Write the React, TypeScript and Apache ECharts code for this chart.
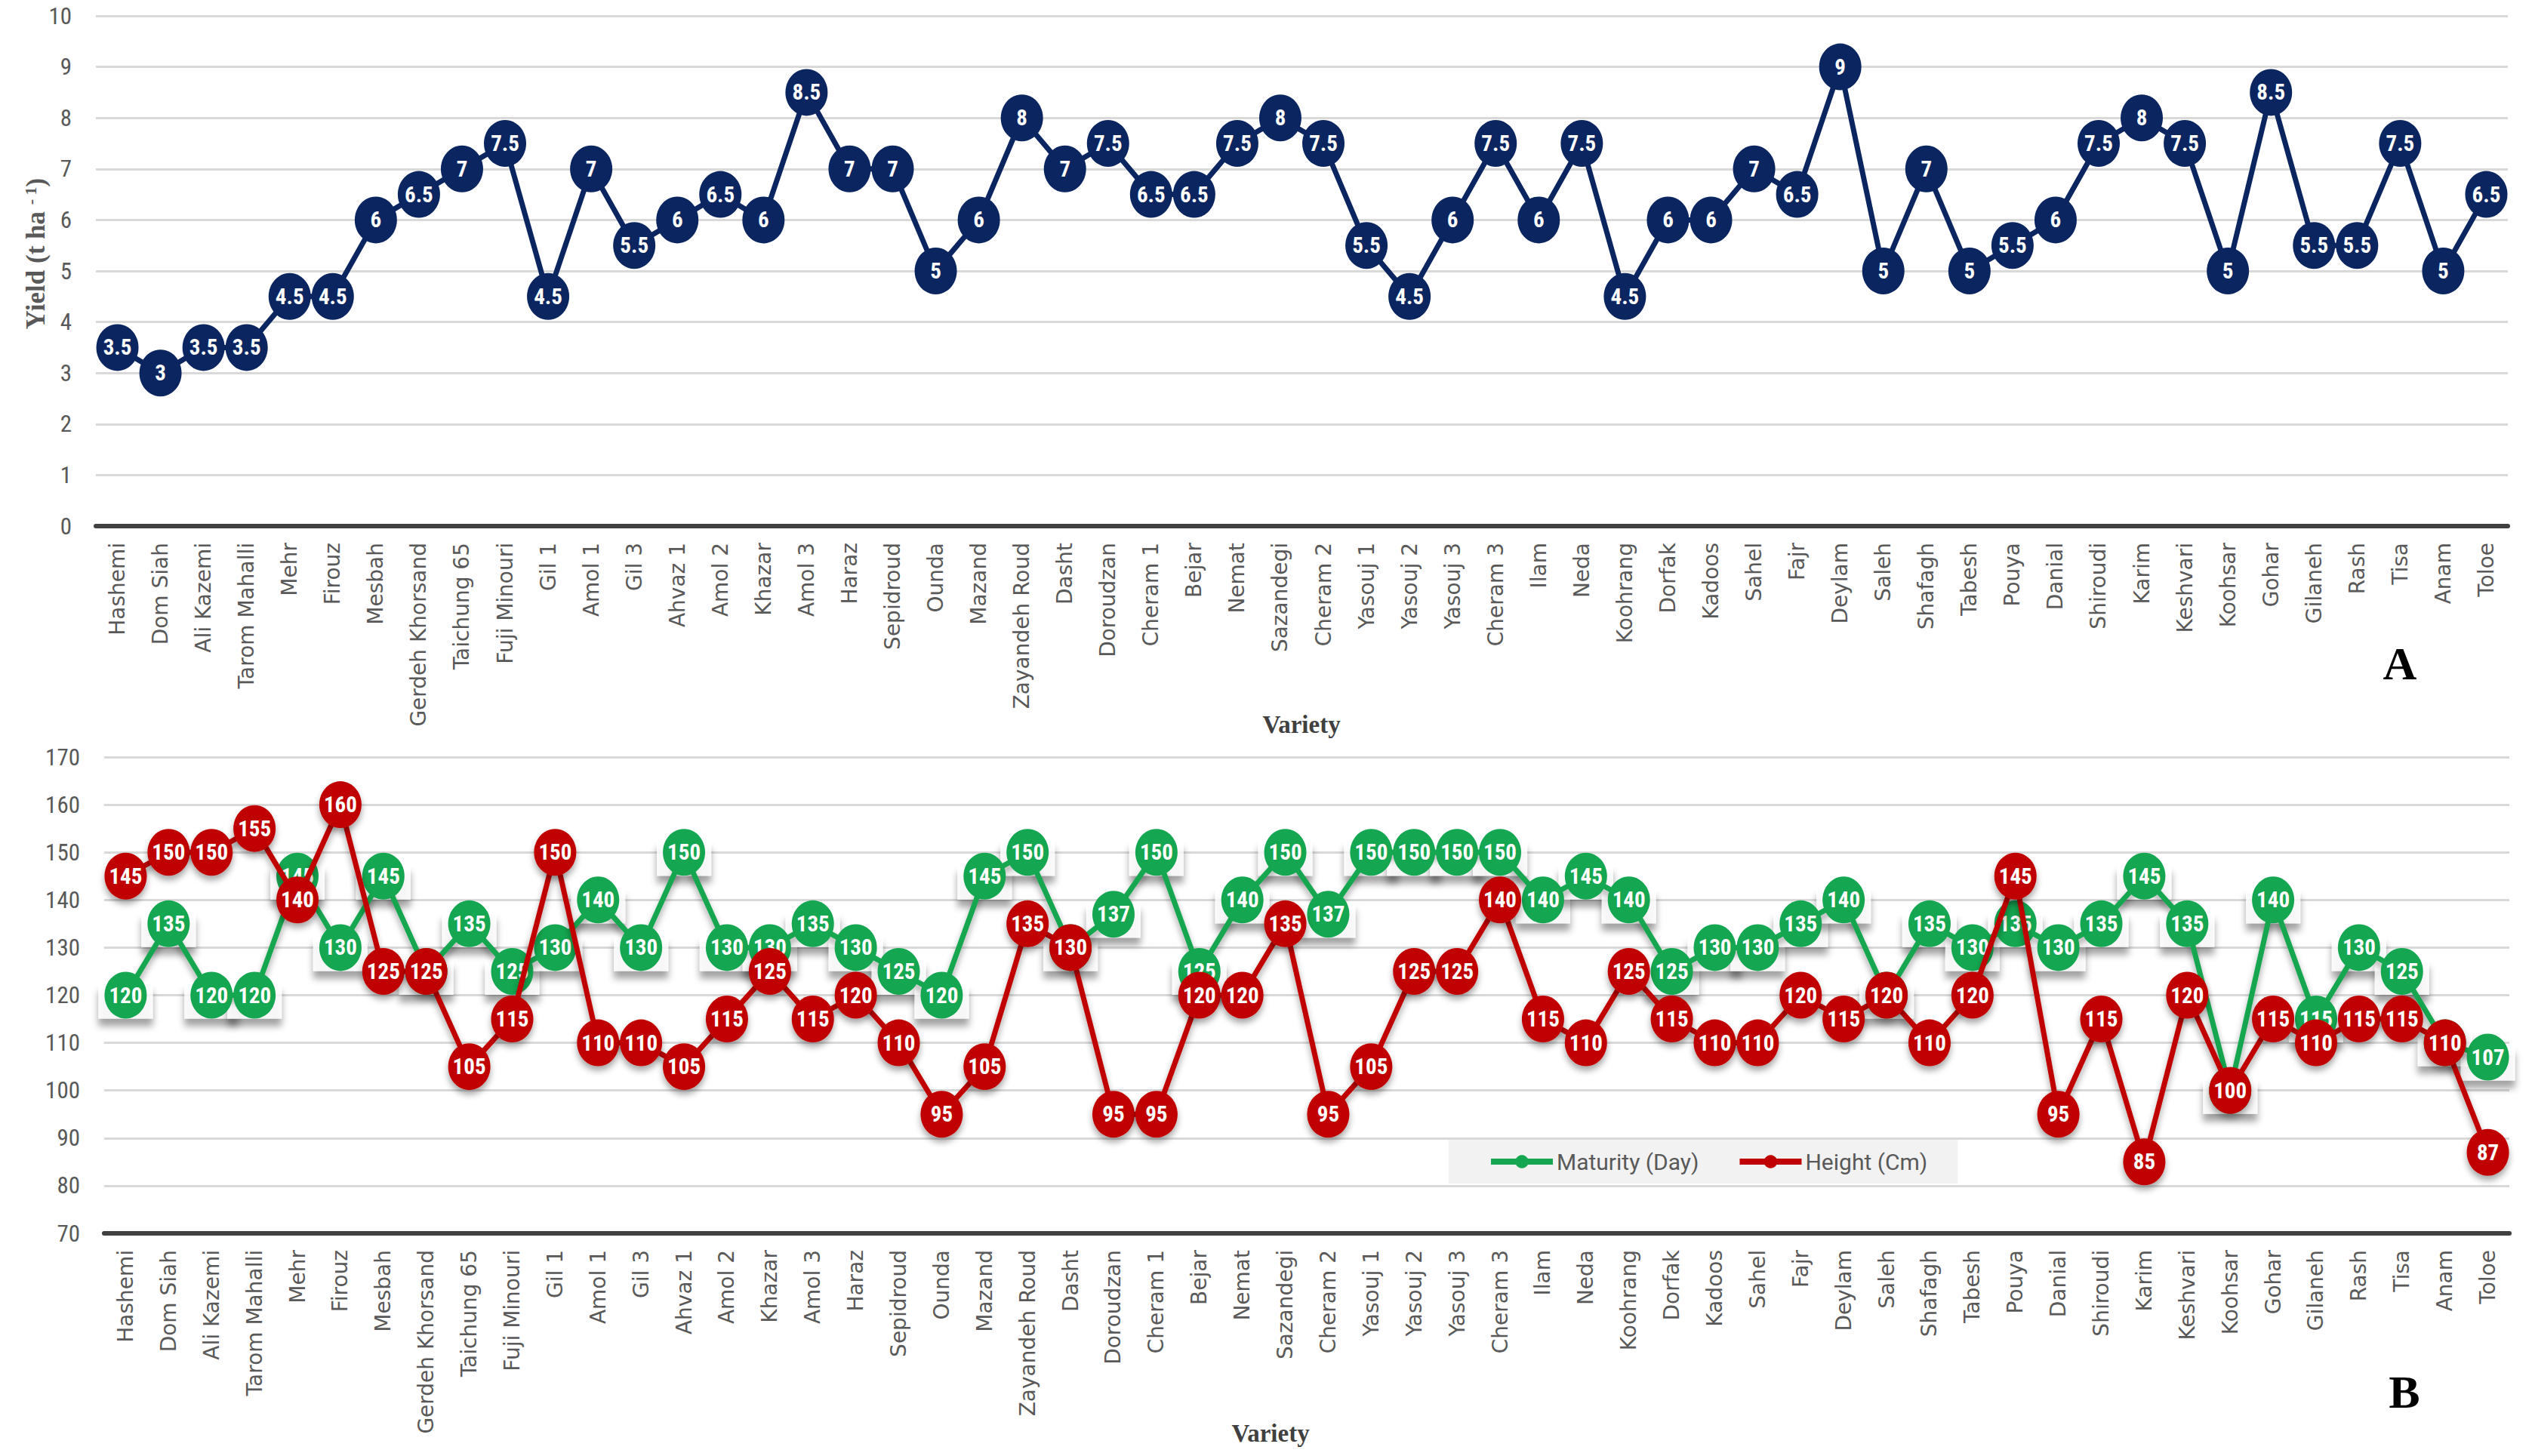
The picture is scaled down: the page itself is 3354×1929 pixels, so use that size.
import React, { useEffect, useRef } from 'react';
import * as echarts from 'echarts';

const categories = [
  'Hashemi', 'Dom Siah', 'Ali Kazemi', 'Tarom Mahalli', 'Mehr', 'Firouz', 'Mesbah', 'Gerdeh Khorsand',
  'Taichung 65', 'Fuji Minouri', 'Gil 1', 'Amol 1', 'Gil 3', 'Ahvaz 1', 'Amol 2', 'Khazar', 'Amol 3',
  'Haraz', 'Sepidroud', 'Ounda', 'Mazand', 'Zayandeh Roud', 'Dasht', 'Doroudzan', 'Cheram 1', 'Bejar',
  'Nemat', 'Sazandegi', 'Cheram 2', 'Yasouj 1', 'Yasouj 2', 'Yasouj 3', 'Cheram 3', 'Ilam', 'Neda',
  'Koohrang', 'Dorfak', 'Kadoos', 'Sahel', 'Fajr', 'Deylam', 'Saleh', 'Shafagh', 'Tabesh', 'Pouya',
  'Danial', 'Shiroudi', 'Karim', 'Keshvari', 'Koohsar', 'Gohar', 'Gilaneh', 'Rash', 'Tisa', 'Anam', 'Toloe',
];

const yieldValues = [
  3.5, 3, 3.5, 3.5, 4.5, 4.5, 6, 6.5, 7, 7.5, 4.5, 7, 5.5, 6, 6.5, 6, 8.5, 7, 7, 5, 6, 8, 7, 7.5, 6.5, 6.5,
  7.5, 8, 7.5, 5.5, 4.5, 6, 7.5, 6, 7.5, 4.5, 6, 6, 7, 6.5, 9, 5, 7, 5, 5.5, 6, 7.5, 8, 7.5, 5, 8.5, 5.5,
  5.5, 7.5, 5, 6.5,
];

const maturityValues = [
  120, 135, 120, 120, 145, 130, 145, 125, 135, 125, 130, 140, 130, 150, 130, 130, 135, 130, 125, 120, 145,
  150, 130, 137, 150, 125, 140, 150, 137, 150, 150, 150, 150, 140, 145, 140, 125, 130, 130, 135, 140, 120,
  135, 130, 135, 130, 135, 145, 135, 100, 140, 115, 130, 125, 110, 107,
];

const heightValues = [
  145, 150, 150, 155, 140, 160, 125, 125, 105, 115, 150, 110, 110, 105, 115, 125, 115, 120, 110, 95, 105,
  135, 130, 95, 95, 120, 120, 135, 95, 105, 125, 125, 140, 115, 110, 125, 115, 110, 110, 120, 115, 120,
  110, 120, 145, 95, 115, 85, 120, 100, 115, 110, 115, 115, 110, 87,
];

const seriesNames = ['Yield', 'Maturity (Day)', 'Height (Cm)'];

const NAVY = '#0b2560';
const GREEN = '#14a650';
const RED = '#c00000';
const TICK_FONT = "'Liberation Sans Narrow', 'Roboto Condensed', Roboto, sans-serif";
const LABEL_FONT = "'DejaVu Sans', Verdana, sans-serif";

export default function App() {
  const ref = useRef<HTMLDivElement>(null);

  useEffect(() => {
    if (!ref.current) return;
    const chart = echarts.init(ref.current, undefined, { renderer: 'svg' });

    const dataLabel = {
      show: true,
      position: 'inside',
      color: '#ffffff',
      fontSize: 29,
      fontWeight: 'bold',
      fontFamily: TICK_FONT,
    };

    const xAxisCommon = {
      type: 'category',
      data: categories,
      boundaryGap: true,
      axisLine: { show: true, lineStyle: { color: '#404040', width: 6 } },
      axisTick: { show: false },
      axisLabel: {
        rotate: 90,
        interval: 0,
        fontSize: 28,
        fontFamily: LABEL_FONT,
        color: '#595959',
        margin: 22,
      },
      splitLine: { show: false },
    };

    const yAxisCommon = {
      type: 'value',
      axisLine: { show: false },
      axisTick: { show: false },
      splitLine: { show: true, lineStyle: { color: '#d9d9d9', width: 3 } },
    };

    const shadow = {
      shadowColor: 'rgba(0,0,0,0.35)',
      shadowBlur: 8,
      shadowOffsetY: 6,
    };

    const option = {
      animation: false,
      backgroundColor: '#ffffff',
      grid: [
        { left: 127, right: 32, top: 21, height: 676 },
        { left: 138, right: 30, top: 1003, height: 631 },
      ],
      xAxis: [
        { ...xAxisCommon, gridIndex: 0 },
        { ...xAxisCommon, gridIndex: 1 },
      ],
      yAxis: [
        {
          ...yAxisCommon,
          gridIndex: 0,
          min: 0,
          max: 10,
          interval: 1,
          axisLabel: { fontSize: 31, fontFamily: TICK_FONT, color: '#595959', margin: 32 },
        },
        {
          ...yAxisCommon,
          gridIndex: 1,
          min: 70,
          max: 170,
          interval: 10,
          axisLabel: { fontSize: 31, fontFamily: TICK_FONT, color: '#595959', margin: 32 },
        },
      ],
      legend: {
        data: [seriesNames[1], seriesNames[2]],
        left: 1919,
        top: 1510,
        orient: 'horizontal',
        backgroundColor: '#f2f2f2',
        padding: [14, 40, 14, 52],
        itemGap: 50,
        itemWidth: 82,
        itemHeight: 22,
        lineStyle: { width: 8 },
        textStyle: { fontSize: 30, fontFamily: 'Roboto, sans-serif', color: '#595959', padding: [0, 0, 0, 0] },
      },
      series: [
        {
          name: seriesNames[0],
          type: 'line',
          xAxisIndex: 0,
          yAxisIndex: 0,
          data: yieldValues,
          symbol: 'circle',
          symbolSize: [56, 62],
          lineStyle: { color: NAVY, width: 7 },
          itemStyle: { color: NAVY },
          label: { ...dataLabel },
          z: 3,
        },
        {
          name: 'maturityBoxes',
          type: 'scatter',
          xAxisIndex: 1,
          yAxisIndex: 1,
          data: maturityValues,
          symbol: 'rect',
          symbolSize: [72, 46],
          symbolOffset: [0, 8],
          itemStyle: {
            color: '#ffffff',
            shadowColor: 'rgba(0,0,0,0.45)',
            shadowBlur: 10,
            shadowOffsetY: 10,
          },
          silent: true,
          z: 1,
        },
        {
          name: seriesNames[1],
          type: 'line',
          xAxisIndex: 1,
          yAxisIndex: 1,
          data: maturityValues,
          symbol: 'circle',
          symbolSize: [56, 62],
          lineStyle: { color: GREEN, width: 7, ...shadow },
          itemStyle: { color: GREEN },
          label: { ...dataLabel },
          z: 2,
        },
        {
          name: seriesNames[2],
          type: 'line',
          xAxisIndex: 1,
          yAxisIndex: 1,
          data: heightValues,
          symbol: 'circle',
          symbolSize: [56, 62],
          lineStyle: { color: RED, width: 7, ...shadow },
          itemStyle: { color: RED, ...shadow },
          label: { ...dataLabel },
          z: 3,
        },
      ],
      graphic: [
        {
          type: 'text',
          x: 47,
          y: 336,
          rotation: Math.PI / 2,
          style: {
            text: '{a|Yield (t ha }{s|- 1}{a|)}',
            textAlign: 'center',
            textVerticalAlign: 'middle',
            rich: {
              a: { fontSize: 35, fontWeight: 'bold', fontFamily: "'Liberation Serif', serif", fill: '#595959' },
              s: { fontSize: 22, fontWeight: 'bold', fontFamily: "'Liberation Serif', serif", fill: '#595959', verticalAlign: 'top' },
            },
          },
        },
        {
          type: 'text',
          x: 1724,
          y: 960,
          style: {
            text: 'Variety',
            fontSize: 33,
            fontWeight: 'bold',
            fontFamily: "'Liberation Serif', serif",
            fill: '#404040',
            textAlign: 'center',
            textVerticalAlign: 'middle',
          },
        },
        {
          type: 'text',
          x: 1683,
          y: 1899,
          style: {
            text: 'Variety',
            fontSize: 33,
            fontWeight: 'bold',
            fontFamily: "'Liberation Serif', serif",
            fill: '#404040',
            textAlign: 'center',
            textVerticalAlign: 'middle',
          },
        },
        {
          type: 'text',
          x: 3179,
          y: 879,
          style: {
            text: 'A',
            fontSize: 62,
            fontWeight: 'bold',
            fontFamily: "'Liberation Serif', serif",
            fill: '#000000',
            textAlign: 'center',
            textVerticalAlign: 'middle',
          },
        },
        {
          type: 'text',
          x: 3185,
          y: 1844,
          style: {
            text: 'B',
            fontSize: 62,
            fontWeight: 'bold',
            fontFamily: "'Liberation Serif', serif",
            fill: '#000000',
            textAlign: 'center',
            textVerticalAlign: 'middle',
          },
        },
      ],
    };

    chart.setOption(option as any);
    return () => {
      chart.dispose();
    };
  }, []);

  return (
    <div
      ref={ref}
      style={{ position: 'fixed', left: 0, top: 0, width: 3354, height: 1929, background: '#ffffff' }}
    />
  );
}
